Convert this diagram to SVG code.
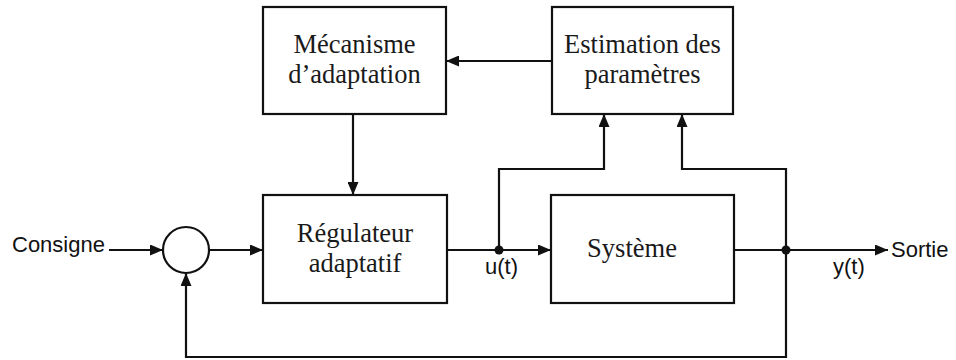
<svg xmlns="http://www.w3.org/2000/svg" width="956" height="360" viewBox="0 0 956 360">
  <style>
    .box { fill: #ffffff; stroke: #111111; stroke-width: 2.2; }
    .wire { fill: none; stroke: #111111; stroke-width: 2.2; }
    .blk { font-family: "Liberation Serif", "DejaVu Serif", serif; font-size: 26.5px; fill: #1a1a1a; text-anchor: middle; }
    .sig { font-family: "Liberation Sans", Arial, sans-serif; font-size: 22px; fill: #111111; }
    .dot { fill: #111111; }
  </style>
  <defs>
    <marker id="arrow" viewBox="0 0 13 11" refX="13" refY="5.5" markerWidth="13" markerHeight="11" markerUnits="userSpaceOnUse" orient="auto">
      <path d="M0,0 L13,5.5 L0,11 Z" fill="#111111"/>
    </marker>
  </defs>

  <rect width="956" height="360" fill="#ffffff"/>

  <g id="connectors">
    <!-- Consigne into summing junction -->
    <line class="wire" x1="109" y1="250" x2="163" y2="250" marker-end="url(#arrow)"/>
    <!-- summing junction to regulator -->
    <line class="wire" x1="209" y1="250" x2="263" y2="250" marker-end="url(#arrow)"/>
    <!-- regulator output u(t) to system -->
    <line class="wire" x1="447" y1="250" x2="551" y2="250" marker-end="url(#arrow)"/>
    <!-- system output y(t) to Sortie -->
    <line class="wire" x1="734" y1="250" x2="888" y2="250" marker-end="url(#arrow)"/>
    <!-- u(t) tap to estimator -->
    <polyline class="wire" points="499,250 499,169 604,169 604,114" marker-end="url(#arrow)"/>
    <!-- y(t) tap to estimator -->
    <polyline class="wire" points="786,250 786,169 682,169 682,114" marker-end="url(#arrow)"/>
    <!-- estimator to adaptation mechanism -->
    <line class="wire" x1="552" y1="61" x2="446" y2="61" marker-end="url(#arrow)"/>
    <!-- adaptation mechanism to regulator -->
    <line class="wire" x1="353" y1="114" x2="353" y2="195" marker-end="url(#arrow)"/>
    <!-- output feedback to summing junction -->
    <polyline class="wire" points="786,250 786,357 186,357 186,273" marker-end="url(#arrow)"/>
    <circle class="dot" cx="499" cy="250" r="4.5"/>
    <circle class="dot" cx="786" cy="250" r="4.5"/>
  </g>

  <g id="sum">
    <circle class="box" cx="186" cy="250" r="23"/>
  </g>

  <g id="mecanisme">
    <rect class="box" x="263" y="7" width="183" height="107"/>
    <text class="blk" x="354.5" y="53">Mécanisme</text>
    <text class="blk" x="354.5" y="83">d’adaptation</text>
  </g>

  <g id="estimation">
    <rect class="box" x="552" y="7" width="181" height="107"/>
    <text class="blk" x="642.5" y="53">Estimation des</text>
    <text class="blk" x="642.5" y="83">paramètres</text>
  </g>

  <g id="regulateur">
    <rect class="box" x="263" y="195" width="184" height="108"/>
    <text class="blk" x="355" y="242">Régulateur</text>
    <text class="blk" x="355" y="272">adaptatif</text>
  </g>

  <g id="systeme">
    <rect class="box" x="551" y="195" width="183" height="108"/>
    <text class="blk" x="632" y="257">Système</text>
  </g>

  <g id="labels">
    <text class="sig" x="12" y="252">Consigne</text>
    <text class="sig" x="485" y="274">u(t)</text>
    <text class="sig" x="833" y="274">y(t)</text>
    <text class="sig" x="891" y="257">Sortie</text>
  </g>
</svg>
